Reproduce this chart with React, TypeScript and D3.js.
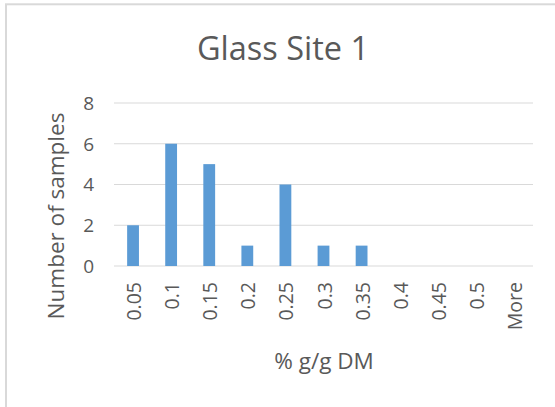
import React from "react";
import * as d3 from "d3";

const categories = ["0.05", "0.1", "0.15", "0.2", "0.25", "0.3", "0.35", "0.4", "0.45", "0.5", "More"];
const counts = [2, 6, 5, 1, 4, 1, 1, 0, 0, 0, 0];
const yTicks = [0, 2, 4, 6, 8];
const chartTitle = "Glass Site 1";
const xTitle = "% g/g DM";
const yTitle = "Number of samples";

const W = 555;
const H = 407;
const FONT = "'Open Sans', 'Noto Sans', sans-serif";
const TEXT = "#595959";
const GRID = "#d9d9d9";
const BAR = "#5B9BD5";

export default function App() {
  const x = d3.scaleBand<string>().domain(categories).range([114, 533]).paddingInner(0.69).paddingOuter(0.345);
  const y = d3.scaleLinear().domain([0, 8]).range([266, 103]);

  return (
    <div style={{ position: "fixed", left: 0, top: 0 }}>
      <svg width={W} height={H} style={{ display: "block", background: "#fff" }}>
        <rect x={6} y={4.3} width={W + 20} height={H + 20} fill="#fff" stroke={GRID} strokeWidth={2} />
        <text x={283} y={60} textAnchor="middle" fontFamily={FONT} fontSize={32.5} fill={TEXT}>
          {chartTitle}
        </text>
        {yTicks.map((t) => (
          <g key={t}>
            <line x1={114} x2={533} y1={y(t)} y2={y(t)} stroke={GRID} strokeWidth={1} />
            <text x={94} y={y(t)} dy="0.36em" textAnchor="end" fontFamily={FONT} fontSize={19} fill={TEXT}>
              {t}
            </text>
          </g>
        ))}
        {categories.map((c, i) => (
          <rect key={c} x={x(c)} width={x.bandwidth()} y={y(counts[i])} height={y(0) - y(counts[i])} fill={BAR} />
        ))}
        {categories.map((c) => {
          const cx = (x(c) as number) + x.bandwidth() / 2 + 1;
          return (
            <text
              key={c}
              transform={`translate(${cx},282) rotate(-90)`}
              dy="0.36em"
              textAnchor="end"
              fontFamily={FONT}
              fontSize={19.5}
              fill={TEXT}
            >
              {c}
            </text>
          );
        })}
        <text x={324} y={369} textAnchor="middle" fontFamily={FONT} fontSize={22.5} fill={TEXT}>
          {xTitle}
        </text>
        <text
          transform={`translate(56,216) rotate(-90)`}
          dy="0.36em"
          textAnchor="middle"
          fontFamily={FONT}
          fontSize={22.5}
          fill={TEXT}
        >
          {yTitle}
        </text>
      </svg>
    </div>
  );
}
